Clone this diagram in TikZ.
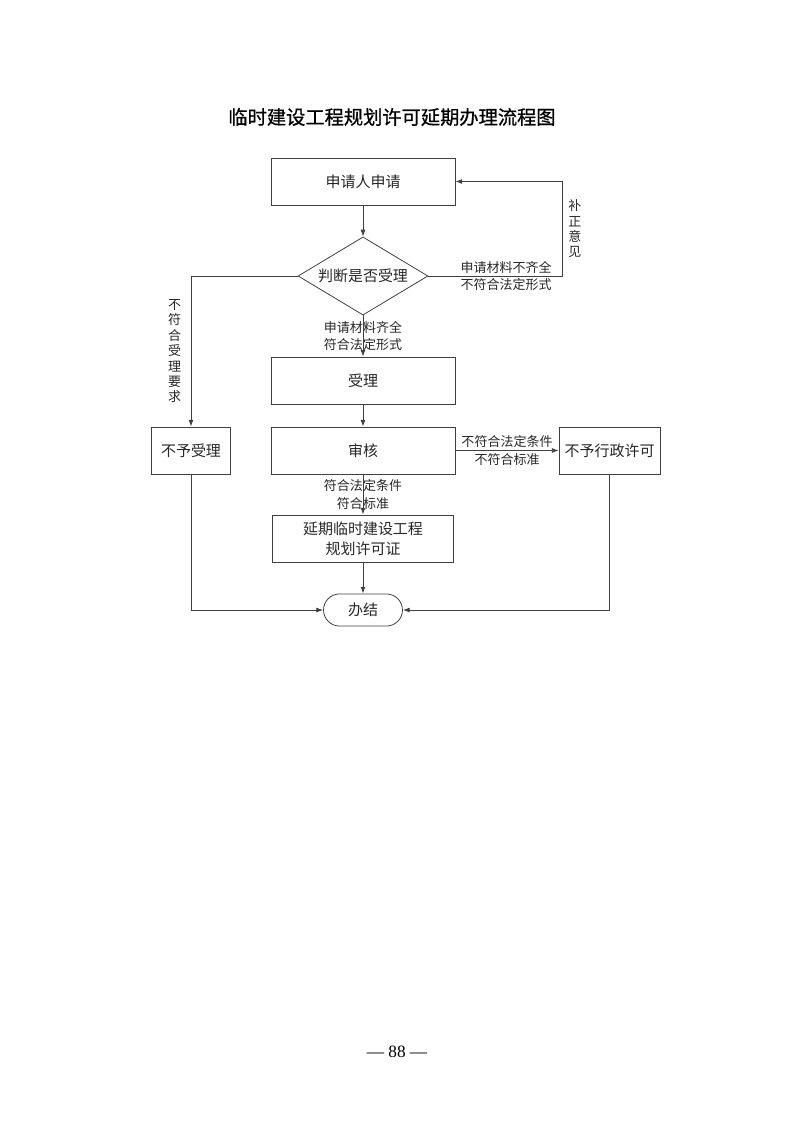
\documentclass[tikz,border=0pt]{standalone}
\usepackage{fontspec}
\setmainfont{Liberation Serif}
\newfontfamily\cjk{Noto Sans CJK SC}
\newfontfamily\cjktitle[FakeBold=0.8]{Noto Sans CJK SC}
\usetikzlibrary{shapes,arrows.meta,positioning,calc}
\usepackage{xcolor}

\tikzset{
  box/.style={draw=black!75, line width=0.6pt, minimum width=48.7mm, minimum height=12.45mm,
    inner sep=0pt, align=center, text=black!85, font=\cjk\fontsize{11.3pt}{15pt}\selectfont},
  smallbox/.style={box, minimum width=20.9mm},
  judgebox/.style={box, diamond, aspect=1.667, minimum width=34.4mm, minimum height=20.7mm},
  endbox/.style={box, minimum width=20.9mm, minimum height=8.5mm, rounded corners=4.25mm},
  lbl/.style={inner sep=0pt, align=center, text=black!85, font=\cjk\fontsize{9.8pt}{13.3pt}\selectfont},
  vlbl/.style={inner sep=0pt, align=center, text=black!85, font=\cjk\fontsize{9.8pt}{11.6pt}\selectfont},
  arr/.style={draw=black!75, line width=0.6pt, -{Latex[length=1.8mm,width=1.3mm]}}
}

\begin{document}
\begin{tikzpicture}[x=0.2648mm, y=-0.2648mm]
  \useasboundingbox (0,0) rectangle (793,1122);

  % title
  \node (title) at (392,117) {\cjktitle\fontsize{14.5pt}{17pt}\selectfont 临时建设工程规划许可延期办理流程图};

  % steps
  \node[box] (apply) at (363,181.5) {申请人申请};
  \node[judgebox] (judge) at (363,276) {判断是否受理};
  \node[box] (accept) at (363,380.5) {受理};
  \node[box] (review) at (363,450.5) {审核};
  \node[smallbox] (reject) at (191,450.5) {不予受理};
  \node[smallbox, minimum width=26.7mm] (deny) at (609.5,450.5) {不予行政许可};
  \node[box, minimum width=47.9mm] (permit) at (363,538.5) {延期临时建设工程\\规划许可证};
  \node[endbox] (done) at (363,610) {办结};

  % connectors
  \draw[arr] (apply) -- (judge);
  \draw[arr] (judge) -- node[lbl] {申请材料齐全\\符合法定形式} (accept);
  \draw[arr] (judge.east) -- node[lbl, pos=0.58] {申请材料不齐全\\不符合法定形式} ++(134,0)
    |- node[vlbl, pos=0.25, right=1.5mm] {补\\正\\意\\见} (apply.east);
  \draw[arr] (judge.west) -| node[vlbl, pos=0.75, left=2.5mm] {不\\符\\合\\受\\理\\要\\求} (reject.north);
  \draw[arr] (accept) -- (review);
  \draw[arr] (review) -- node[lbl] {不符合法定条件\\不符合标准} (deny);
  \draw[arr] (review) -- node[lbl] {符合法定条件\\符合标准} (permit);
  \draw[arr] (permit) -- (done);
  \draw[arr] (reject) |- (done);
  \draw[arr] (deny) |- (done);

  % page number
  \node (page) at (397,1052) {\fontsize{13pt}{15pt}\selectfont — 88 —};
\end{tikzpicture}
\end{document}
